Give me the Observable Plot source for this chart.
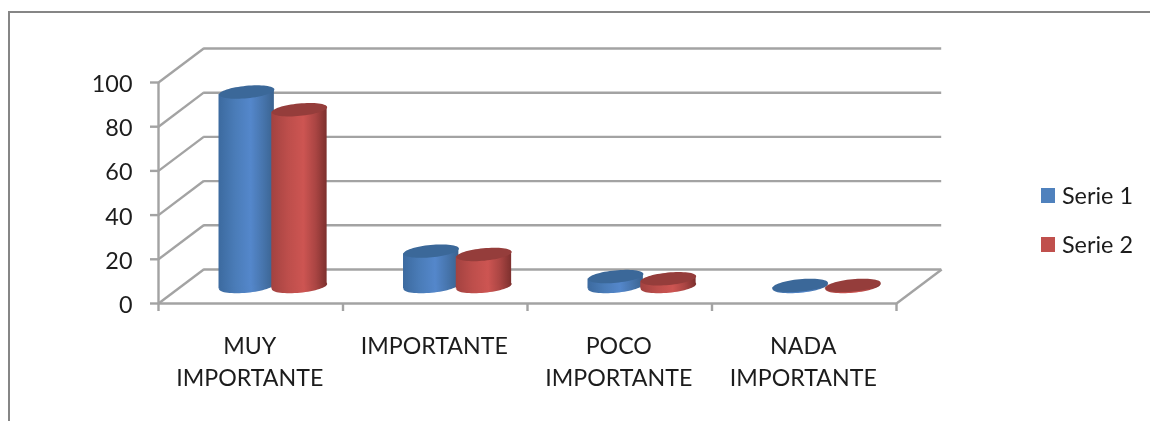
<!DOCTYPE html>
<html>
<head>
<meta charset="utf-8">
<script src="https://cdn.jsdelivr.net/npm/d3@7"></script>
<script src="https://cdn.jsdelivr.net/npm/@observablehq/plot@0.6"></script>
<style>
html,body{margin:0;padding:0;background:#fff;overflow:hidden}
#wrap{position:relative;width:1150px;height:421px}
#border{position:absolute;left:8px;top:11px;right:0;bottom:0;border-left:2px solid #868686;border-top:2px solid #868686;filter:blur(.4px)}
#legend{position:absolute;left:1041px;top:170.5px;font:23.4px Lato,sans-serif;color:#1c1c1c;filter:blur(.4px)}
#legend div{height:49px;display:flex;align-items:center;white-space:nowrap}
#legend i{display:inline-block;width:14px;height:15px;margin-right:7px}
#chart{position:absolute;left:0;top:0}
</style>
</head>
<body>
<div id="wrap"><div id="border"></div><div id="chart"></div>
<div id="legend"></div></div>
<script>
const categories = ["MUY\nIMPORTANTE", "IMPORTANTE", "POCO\nIMPORTANTE", "NADA\nIMPORTANTE"];
const serie1 = [88, 16, 4.5, 0.5];
const serie2 = [80, 14.5, 3.5, 0.5];
const seriesNames = ["Serie 1", "Serie 2"];
const yTicks = [0, 20, 40, 60, 80, 100];
const xTicks = [0, 1, 2, 3, 4];

const gridColor = "#a3a3a3";
const textColor = "#1c1c1c";
const fontFamily = "Lato, sans-serif";

// depth of the 3-D box, in data units
const depthX = 0.245, depthY = 15.4;
// horizontal place of each cylinder inside its category
const seriesPlace = [0.478, 0.764];
// half width, half depth and tilt of a cylinder's cap
const capA = 27.8, capB = 6.2, capTilt = 5.5 * Math.PI / 180;
const xUnit = 184.5, yUnit = 2.21;
const cosT = Math.cos(capTilt), sinT = Math.sin(capTilt);
const extremeT = Math.atan2(capB * sinT, capA * cosT);
const halfX = (capA * Math.cos(extremeT) * cosT + capB * Math.sin(extremeT) * sinT) / xUnit;
const tiltY = (capA * Math.cos(extremeT) * sinT - capB * Math.sin(extremeT) * cosT) / yUnit;

const capSymbol = {
  draw(ctx) {
    const n = 64;
    for (let i = 0; i < n; i++) {
      const t = 2 * Math.PI * i / n;
      const ex = capA * Math.cos(t), ey = capB * Math.sin(t);
      const px = ex * cosT + ey * sinT, py = -ex * sinT + ey * cosT;
      if (i) ctx.lineTo(px, py); else ctx.moveTo(px, py);
    }
    ctx.closePath();
  }
};

const palette = [
  {id: "g1", cap: "#3b6899"},
  {id: "g2", cap: "#953d3b"}
];

const defs = () => {
  const d = d3.create("svg:defs");
  const stops = [
    [["0", "#3c6a9f"], ["0.3", "#4a7cb8"], ["0.58", "#5487cb"], ["0.8", "#4775ad"], ["1", "#3a6390"]],
    [["0", "#a34240"], ["0.3", "#bd4e4b"], ["0.58", "#cd5552"], ["0.8", "#aa4543"], ["1", "#7d302e"]]
  ];
  stops.forEach((st, i) => {
    const g = d.append("linearGradient").attr("id", palette[i].id).attr("x1", 0).attr("x2", 1).attr("y1", 0).attr("y2", 0);
    st.forEach(([o, c]) => g.append("stop").attr("offset", o).attr("stop-color", c));
  });
  return d.node();
};

function cylinderMarks(values, s) {
  const rows = values.map((v, i) => ({i, v, x: i + seriesPlace[s]}));
  const sides = rows.flatMap(r => [
    {i: r.i, x: r.x - halfX, y1: -tiltY, y2: r.v - tiltY},
    {i: r.i, x: r.x + halfX, y1: tiltY, y2: r.v + tiltY}
  ]);
  const fill = `url(#${palette[s].id})`;
  return rows.map((r, k) => [
    Plot.dot([r], {x: "x", y: 0, dy: -17, symbol: capSymbol, fill, stroke: "none"}),
    Plot.area(sides.slice(k * 2, k * 2 + 2), {x1: "x", y1: "y1", y2: "y2", dy: -17, fill, stroke: "none"}),
    Plot.dot([r], {x: "x", y: "v", dy: -17, symbol: capSymbol, fill: palette[s].cap, stroke: "none"})
  ]);
}

const chart = Plot.plot({
  width: 1150,
  height: 421,
  marginLeft: 158,
  marginRight: 254,
  marginTop: 82,
  marginBottom: 118,
  style: {background: "transparent", filter: "blur(.55px)"},
  x: {domain: [0, 4], axis: null},
  y: {domain: [0, 100], axis: null},
  marks: [
    defs,
    // back wall and left wall
    Plot.ruleY(yTicks, {x1: 0, x2: 4, dx: 45.2, dy: -34, stroke: gridColor, strokeWidth: 2.4}),
    Plot.link(yTicks, {x1: 0, y1: d => d, x2: depthX, y2: d => d + depthY, stroke: gridColor, strokeWidth: 2.4}),
    // floor and front axes
    Plot.link([0], {x1: 4, y1: 0, x2: 4 + depthX, y2: depthY, stroke: gridColor, strokeWidth: 2.4}),
    Plot.ruleY([0], {x1: 0, x2: 4, stroke: gridColor, strokeWidth: 2.4}),
    Plot.ruleX([0], {y1: 0, y2: 100, stroke: gridColor, strokeWidth: 2.4}),
    Plot.axisY({ticks: yTicks, tickSize: 8, fill: "none", stroke: gridColor, strokeWidth: 2.4, label: null}),
    Plot.axisY({ticks: yTicks, tickSize: 0, tickPadding: 26, dy: 2, fill: textColor, fontSize: 23.4, fontFamily, label: null}),
    Plot.axisX({ticks: xTicks, tickSize: 8, fill: "none", stroke: gridColor, strokeWidth: 2.4, label: null, tickFormat: () => ""}),
    // cylinders
    ...categories.map((_, i) => [
      cylinderMarks(serie1, 0)[i],
      cylinderMarks(serie2, 1)[i]
    ]),
    // category labels
    Plot.text(categories, {
      x: (_, i) => i + 0.5, y: 0, dx: -1, dy: 27,
      text: d => d, lineAnchor: "top", lineHeight: 1.4,
      textAnchor: "middle", fontSize: 23.2, fontFamily, fill: textColor
    })
  ]
});
document.getElementById("chart").appendChild(chart);

const legendEl = document.getElementById("legend");
const swatches = ["#4f81bd", "#c0504d"];
seriesNames.forEach((name, i) => {
  const row = document.createElement("div");
  const sw = document.createElement("i");
  sw.style.background = swatches[i];
  row.appendChild(sw);
  row.appendChild(document.createTextNode(name));
  legendEl.appendChild(row);
});
</script>
</body>
</html>
